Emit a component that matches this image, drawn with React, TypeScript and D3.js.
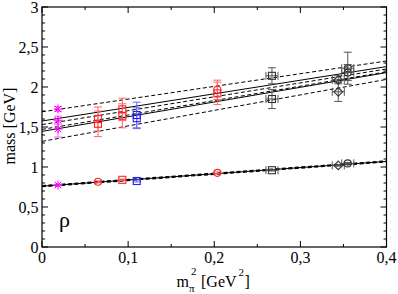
import React from "react";
import * as d3 from "d3";

// ---------- data ----------
const xTicksMajor = [0, 0.1, 0.2, 0.3, 0.4];
const xTickLabels = ["0", "0,1", "0,2", "0,3", "0,4"];
const yTicksMajor = [0, 0.5, 1, 1.5, 2, 2.5, 3];
const yTickLabels = ["0", "0,5", "1", "1,5", "2", "2,5", "3"];

const fitX = [0, 0.4];
// upper state fits (values at x=0 and x=0.4)
const fitACenter = [1.575, 2.255];
const fitAHigh = [1.69, 2.325];
const fitALow = [1.47, 2.19];
const fitBCenter = [1.445, 2.18];
const fitBHigh = [1.53, 2.225];
const fitBLow = [1.32, 2.095];
// ground state fit
const rhoCenter = [0.76, 1.07];
const rhoHigh = [0.767, 1.077];
const rhoLow = [0.753, 1.063];

type Pt = { x: number; y: number; e: number; ex?: number };

const magentaStars: Pt[] = [
  { x: 0.0186, y: 0.775, e: 0.01 },
  { x: 0.0186, y: 1.725, e: 0.03 },
  { x: 0.0186, y: 1.585, e: 0.05 },
  { x: 0.0186, y: 1.475, e: 0.1 },
];
const redCircles: Pt[] = [
  { x: 0.065, y: 0.815, e: 0.012 },
  { x: 0.2036, y: 0.927, e: 0.012 },
  { x: 0.2036, y: 1.965, e: 0.12 },
];
const redSquares: Pt[] = [
  { x: 0.065, y: 1.6, e: 0.15 },
  { x: 0.065, y: 1.54, e: 0.16 },
  { x: 0.0933, y: 0.84, e: 0.01 },
  { x: 0.0933, y: 1.72, e: 0.14 },
  { x: 0.0933, y: 1.64, e: 0.15 },
  { x: 0.2036, y: 1.92, e: 0.14 },
];
const blueSquares: Pt[] = [
  { x: 0.11, y: 0.825, e: 0.012 },
  { x: 0.11, y: 1.65, e: 0.16 },
  { x: 0.11, y: 1.61, e: 0.13 },
];
const blackSquares: Pt[] = [
  { x: 0.267, y: 0.96, e: 0.01, ex: 0.007 },
  { x: 0.267, y: 2.14, e: 0.1, ex: 0.007 },
  { x: 0.267, y: 1.85, e: 0.12, ex: 0.007 },
];
const blackDiamonds: Pt[] = [
  { x: 0.344, y: 1.02, e: 0.01, ex: 0.007 },
  { x: 0.344, y: 2.09, e: 0.05, ex: 0.007 },
  { x: 0.344, y: 1.94, e: 0.12, ex: 0.007 },
];
const blackCircles: Pt[] = [
  { x: 0.355, y: 1.045, e: 0.01, ex: 0.007 },
  { x: 0.355, y: 2.235, e: 0.2, ex: 0.007 },
  { x: 0.355, y: 2.18, e: 0.1, ex: 0.007 },
];

// ---------- layout ----------
const W = 398;
const H = 294;
const x = d3.scaleLinear().domain([0, 0.4]).range([42, 386.5]);
const y = d3.scaleLinear().domain([0, 3]).range([247, 7]);

const FONT = "Liberation Serif, DejaVu Serif, serif";

function Fit({ v, dashed, w = 1 }: { v: number[]; dashed?: boolean; w?: number }) {
  const line = d3
    .line<number>()
    .x((_, i) => x(fitX[i]))
    .y((d) => y(d));
  return (
    <path
      d={line(v) || ""}
      fill="none"
      stroke="#000"
      strokeWidth={w}
      strokeDasharray={dashed ? "4,2.5" : undefined}
    />
  );
}

function ErrBars({ pts, color }: { pts: Pt[]; color: string }) {
  const cap = 4;
  return (
    <g stroke={color} strokeWidth={1} fill="none">
      {pts.map((p, i) => {
        const cx = x(p.x);
        const y1 = y(p.y + p.e);
        const y2 = y(p.y - p.e);
        const parts = [
          `M${cx},${y1}L${cx},${y2}`,
          `M${cx - cap},${y1}L${cx + cap},${y1}`,
          `M${cx - cap},${y2}L${cx + cap},${y2}`,
        ];
        if (p.ex) {
          const cy = y(p.y);
          const x1 = x(p.x - p.ex);
          const x2 = x(p.x + p.ex);
          parts.push(`M${x1},${cy}L${x2},${cy}`);
          parts.push(`M${x1},${cy - cap}L${x1},${cy + cap}`);
          parts.push(`M${x2},${cy - cap}L${x2},${cy + cap}`);
        }
        return <path key={i} d={parts.join("")} />;
      })}
    </g>
  );
}

function Symbols({ pts, color, shape }: { pts: Pt[]; color: string; shape: string }) {
  const r = 3.5;
  return (
    <g stroke={color} strokeWidth={1.1} fill="none">
      {pts.map((p, i) => {
        const cx = x(p.x);
        const cy = y(p.y);
        if (shape === "circle") return <circle key={i} cx={cx} cy={cy} r={r} />;
        if (shape === "square")
          return <rect key={i} x={cx - r} y={cy - r} width={2 * r} height={2 * r} />;
        if (shape === "diamond")
          return (
            <path
              key={i}
              d={`M${cx},${cy - r - 0.8}L${cx + r + 0.8},${cy}L${cx},${cy + r + 0.8}L${cx - r - 0.8},${cy}Z`}
            />
          );
        // star (asterisk)
        const s = 4.5;
        const a = s * 0.72;
        return (
          <path
            key={i}
            strokeWidth={1}
            d={`M${cx - s},${cy}L${cx + s},${cy}M${cx},${cy - s}L${cx},${cy + s}M${cx - a},${cy - a}L${cx + a},${cy + a}M${cx - a},${cy + a}L${cx + a},${cy - a}`}
          />
        );
      })}
    </g>
  );
}

export default function App() {
  const xMinor = d3.range(0, 0.4001, 0.05);
  const yMinor = d3.range(0, 3.0001, 0.1);
  const [x0, x1] = x.range();
  const [yb, yt] = y.range();
  return (
    <svg
      width={W}
      height={H}
      viewBox={`0 0 ${W} ${H}`}
      style={{ position: "absolute", left: 0, top: 0, background: "#fff", fontFamily: FONT }}
    >
      <rect x={0} y={0} width={W} height={H} fill="#fff" />
      {/* fits */}
      <Fit v={fitAHigh} dashed />
      <Fit v={fitACenter} />
      <Fit v={fitALow} dashed />
      <Fit v={fitBHigh} dashed />
      <Fit v={fitBCenter} />
      <Fit v={fitBLow} dashed />
      <Fit v={rhoHigh} dashed w={1.2} />
      <Fit v={rhoCenter} />
      <Fit v={rhoLow} dashed w={1.2} />

      {/* error bars */}
      <ErrBars pts={magentaStars} color="#ff60ff" />
      <ErrBars pts={redCircles} color="#ff6666" />
      <ErrBars pts={redSquares} color="#ff6666" />
      <ErrBars pts={blueSquares} color="#6666ff" />
      <ErrBars pts={blackSquares} color="#555" />
      <ErrBars pts={blackDiamonds} color="#555" />
      <ErrBars pts={blackCircles} color="#555" />

      {/* symbols */}
      <Symbols pts={magentaStars} color="#ff00ff" shape="star" />
      <Symbols pts={redCircles} color="#ff2020" shape="circle" />
      <Symbols pts={redSquares} color="#ff2020" shape="square" />
      <Symbols pts={blueSquares} color="#2020ff" shape="square" />
      <Symbols pts={blackSquares} color="#333" shape="square" />
      <Symbols pts={blackDiamonds} color="#333" shape="diamond" />
      <Symbols pts={blackCircles} color="#333" shape="circle" />

      {/* frame */}
      <rect x={x0} y={yt} width={x1 - x0} height={yb - yt} fill="none" stroke="#000" strokeWidth={1.2} />

      {/* ticks */}
      <g stroke="#000" strokeWidth={1}>
        {xMinor.map((v, i) => {
          const major = xTicksMajor.some((m) => Math.abs(m - v) < 1e-6);
          const len = major ? 6 : 3;
          return (
            <g key={i}>
              <line x1={x(v)} x2={x(v)} y1={yb} y2={yb - len} />
              <line x1={x(v)} x2={x(v)} y1={yt} y2={yt + len} />
            </g>
          );
        })}
        {yMinor.map((v, i) => {
          const major = yTicksMajor.some((m) => Math.abs(m - v) < 1e-6);
          const len = major ? 6 : 3;
          return (
            <g key={i}>
              <line x1={x0} x2={x0 + len} y1={y(v)} y2={y(v)} />
              <line x1={x1} x2={x1 - len} y1={y(v)} y2={y(v)} />
            </g>
          );
        })}
      </g>

      {/* tick labels */}
      <g fontSize={16} fill="#000" style={{ fontFamily: FONT }}>
        {xTicksMajor.map((v, i) => (
          <text key={i} x={x(v)} y={262.5} textAnchor="middle">
            {xTickLabels[i]}
          </text>
        ))}
        {yTicksMajor.map((v, i) => (
          <text key={i} x={38.5} y={y(v) + 5.5} textAnchor="end">
            {yTickLabels[i]}
          </text>
        ))}
      </g>

      {/* axis titles */}
      <g style={{ fontFamily: FONT }} fill="#000">
        <text fontSize={16} x={176.5} y={286.5}>
          m
        </text>
        <text fontSize={11} x={189} y={291.5}>
          π
        </text>
        <text fontSize={11} x={191} y={275}>
          2
        </text>
        <text fontSize={16} x={201} y={286.5}>
          [GeV
        </text>
        <text fontSize={11} x={238.5} y={276}>
          2
        </text>
        <text fontSize={16} x={244.5} y={286.5}>
          ]
        </text>
        <text fontSize={16} textAnchor="middle" transform="translate(15,126) rotate(-90)">
          mass [GeV]
        </text>
        <text fontSize={22} x={59} y={227}>
          ρ
        </text>
      </g>
    </svg>
  );
}
